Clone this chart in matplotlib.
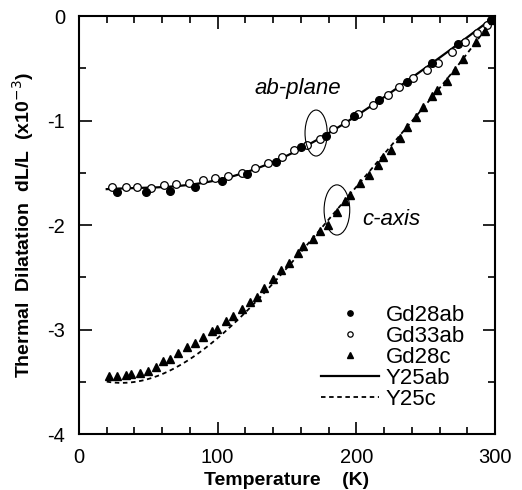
import matplotlib
matplotlib.use("Agg")
import matplotlib.pyplot as plt
from matplotlib.patches import Ellipse
from matplotlib.ticker import MultipleLocator
import numpy as np

plt.rcParams['font.family'] = ['Liberation Sans', 'DejaVu Sans']

# Gd28ab (filled circles)
gd28ab_T = [27.4, 48.3, 65.6, 83.6, 103.1, 121.1, 142.0, 160.1, 178.1, 198.3, 216.3, 236.5, 254.5, 273.3, 297.0, 300.0]
gd28ab_v = [-1.684, -1.684, -1.675, -1.636, -1.579, -1.512, -1.397, -1.254, -1.148, -0.957, -0.804, -0.632, -0.450, -0.268, -0.038, 0.0]

# Gd33ab (open circles)
gd33ab_T = [23.8, 33.9, 41.8, 51.9, 61.3, 69.9, 79.3, 89.4, 98.1, 107.4, 117.5, 126.9, 136.3, 146.4, 155.0,
            164.4, 173.8, 183.1, 191.8, 201.2, 212.0, 222.8, 230.7, 240.8, 250.9, 258.8, 268.9, 278.3, 286.9, 294.2]
gd33ab_v = [-1.636, -1.636, -1.636, -1.646, -1.617, -1.608, -1.598, -1.569, -1.550, -1.531, -1.502, -1.455, -1.407, -1.349, -1.282,
            -1.234, -1.177, -1.081, -1.024, -0.938, -0.852, -0.756, -0.679, -0.593, -0.517, -0.450, -0.344, -0.249, -0.163, -0.086]

# Gd28c (filled triangles)
gd28c_T = [21.6, 27.4, 33.9, 37.5, 44.0, 49.7, 55.5, 60.6, 65.6, 71.4, 77.9, 83.6, 89.4, 95.9, 99.5, 106.0, 111.0,
           117.5, 123.3, 128.3, 133.4, 139.9, 145.6, 151.4, 157.9, 161.5, 168.7, 173.8, 179.5, 186.0, 191.8, 195.4,
           202.6, 209.1, 215.6, 219.2, 225.0, 231.4, 236.5, 243.0, 248.0, 254.5, 258.1, 265.3, 271.1, 276.9, 286.2,
           292.7, 298.5]
gd28c_v = [-3.442, -3.442, -3.435, -3.426, -3.419, -3.400, -3.359, -3.298, -3.285, -3.222, -3.170, -3.126, -3.072,
           -3.011, -2.998, -2.919, -2.871, -2.804, -2.737, -2.689, -2.603, -2.517, -2.431, -2.364, -2.268, -2.201,
           -2.134, -2.057, -2.000, -1.876, -1.770, -1.713, -1.598, -1.522, -1.426, -1.349, -1.282, -1.167, -1.062,
           -0.967, -0.871, -0.766, -0.708, -0.622, -0.517, -0.411, -0.249, -0.144, -0.038]

# Y25ab (solid line) and Y25c (dashed line)
y25_T = [20, 40, 60, 80, 100, 120, 140, 160, 180, 200, 220, 240, 260, 280, 300]
y25ab_v = [-1.655, -1.65, -1.64, -1.61, -1.565, -1.50, -1.40, -1.27, -1.12, -0.955, -0.775, -0.59, -0.40, -0.205, 0.0]
y25c_v = [-3.51, -3.48, -3.42, -3.30, -3.10, -2.84, -2.54, -2.24, -1.95, -1.64, -1.34, -1.01, -0.68, -0.35, 0.0]

x_ticks = [0, 100, 200, 300]
y_ticks = [0, -1, -2, -3, -4]

fig = plt.figure(figsize=(5.22, 4.90), dpi=100)
ax = fig.add_axes([79/522, 1 - 434/490, 416/522, 418/490])

# smooth curves through the read points
def smooth(T, v):
    T = np.asarray(T, float); v = np.asarray(v, float)
    c = np.polyfit(T, v, 5)
    tt = np.linspace(T.min(), T.max(), 200)
    return tt, np.polyval(c, tt)

tt, yy = smooth(y25_T, y25ab_v)
ax.plot(tt, yy, color='black', lw=1.6, label='Y25ab', zorder=2)
tt, yy = smooth(y25_T, y25c_v)
ax.plot(tt, yy, color='black', lw=1.3, ls=(0, (2.5, 2.0)), label='Y25c', zorder=2)

ax.plot(gd28ab_T, gd28ab_v, 'o', ms=5.5, mfc='black', mec='black', ls='none', label='Gd28ab', zorder=4)
ax.plot(gd33ab_T, gd33ab_v, 'o', ms=5.5, mfc='white', mec='black', mew=0.9, ls='none', label='Gd33ab', zorder=3)
ax.plot(gd28c_T, gd28c_v, '^', ms=6, mfc='black', mec='black', ls='none', label='Gd28c', zorder=4)

ax.add_patch(Ellipse((171, -1.12), 16, 0.44, fill=False, lw=0.8, color='black', zorder=5))
ax.add_patch(Ellipse((186, -1.856), 18.5, 0.48, fill=False, lw=0.8, color='black', zorder=5))
ax.text(158, -0.69, 'ab-plane', style='italic', fontsize=16, ha='center', va='center')
ax.text(225.5, -1.95, 'c-axis', style='italic', fontsize=16, ha='center', va='center')

ax.set_xlim(0, 300)
ax.set_ylim(-4, 0)
ax.set_xticks(x_ticks)
ax.set_yticks(y_ticks)
ax.set_xticklabels([str(t) for t in x_ticks])
ax.set_yticklabels([str(t) for t in y_ticks])
ax.xaxis.set_minor_locator(MultipleLocator(20))
ax.yaxis.set_minor_locator(MultipleLocator(0.5))
ax.tick_params(which='both', direction='in', top=True, right=True, width=1.2, labelsize=14.5)
ax.tick_params(which='major', length=9, pad=10)
ax.tick_params(which='minor', length=5)
for s in ax.spines.values():
    s.set_linewidth(1.5)

ax.set_xlabel('Temperature    (K)', fontsize=14, fontweight='bold', labelpad=4)
ax.set_ylabel('Thermal  Dilatation  dL/L  (x10$^{-3}$)', fontsize=14, fontweight='bold', labelpad=8)

h, l = ax.get_legend_handles_labels()
order = ['Gd28ab', 'Gd33ab', 'Gd28c', 'Y25ab', 'Y25c']
hd = dict(zip(l, h))
ax.legend([hd[k] for k in order], order, loc='upper left', bbox_to_anchor=(0.555, 0.335),
          frameon=False, fontsize=16, handlelength=2.6, handletextpad=0.3, labelspacing=0.0,
          borderpad=0, markerscale=0.7)

fig.savefig('out.png', dpi=100)
